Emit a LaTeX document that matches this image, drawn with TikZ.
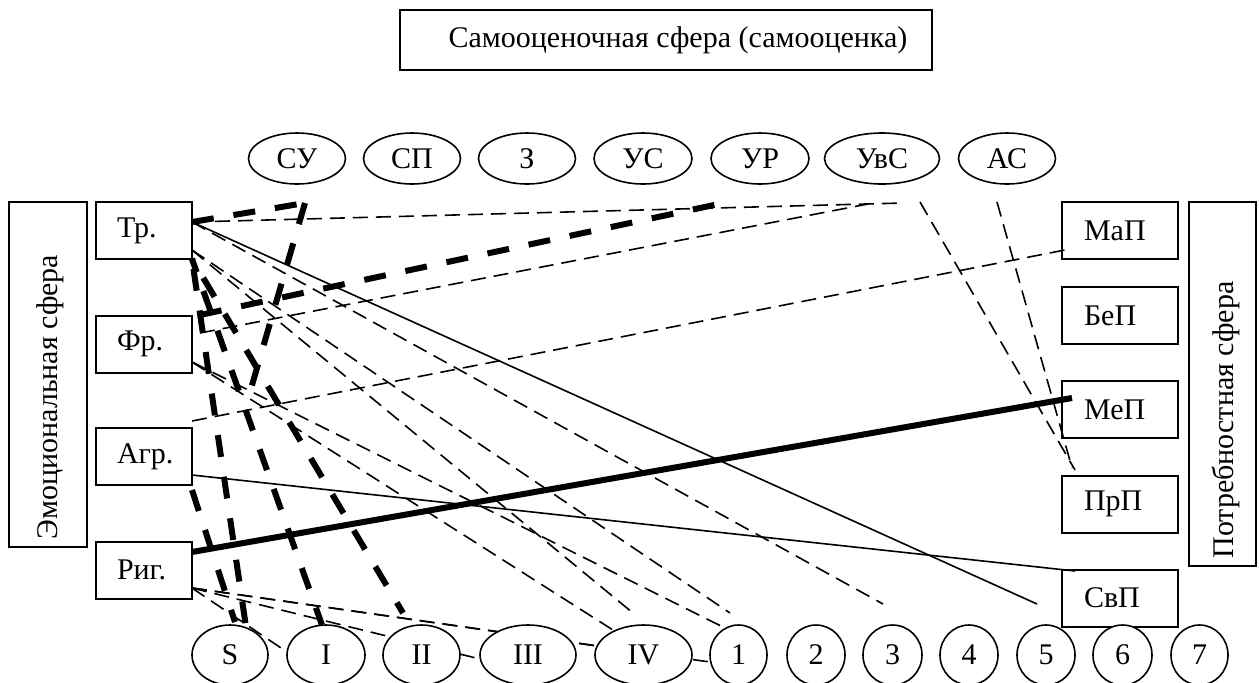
\documentclass[tikz,border=0pt]{standalone}
\usepackage{fontspec}
\setmainfont{Liberation Serif}
\usetikzlibrary{shapes.geometric,backgrounds}
\begin{document}
\begin{tikzpicture}[x=0.5pt,y=-0.5pt,
  every node/.style={font=\fontsize{15}{18}\selectfont},
  lbox/.style={draw, line width=1pt, minimum height=28.5pt, inner ysep=0pt, inner xsep=10.5pt, text width=27pt, align=left},
  rbox/.style={draw, line width=1pt, minimum height=28.5pt, inner ysep=0pt, inner xsep=11pt, text width=36pt, align=left},
  bigbox/.style={draw, line width=1pt, inner sep=0pt},
  oval/.style={ellipse, draw, line width=0.8pt, fill=white, inner sep=0pt},
  thin/.style={line width=0.8pt},
  thindash/.style={line width=0.8pt, dash pattern=on 7.5pt off 4pt},
  thickdash/.style={line width=3pt, dash pattern=on 11pt off 10pt},
  thicksolid/.style={line width=3pt}
]
\useasboundingbox (0,0) rectangle (1259,682);

% title
\node[bigbox, minimum width=266pt, minimum height=30pt] (title) at (666,40) {};
\node (titletext) at (678,40) {Самооценочная сфера (самооценка)};

% side spheres
\node[bigbox, minimum width=39pt, minimum height=172.5pt] (emo) at (48,374.5) {};
\node[rotate=90] (emotext) at (50,397) {Эмоциональная сфера};
\node[bigbox, minimum width=33.5pt, minimum height=182pt] (need) at (1222.5,384) {};
\node[rotate=90] (needtext) at (1226,420) {Потребностная сфера};

% left boxes
\node[lbox] (tr)  at (144,230.5) {Тр.};
\node[lbox] (fr)  at (144,344)   {Фр.};
\node[lbox] (agr) at (144,456.5) {Агр.};
\node[lbox] (rig) at (144,570)   {Риг.};

% right boxes
\node[rbox] (map) at (1120,230.5) {МаП};
\node[rbox] (bep) at (1120,315.5) {БеП};
\node[rbox] (mep) at (1120,409.5) {МеП};
\node[rbox] (prp) at (1120,504)   {ПрП};
\node[rbox] (svp) at (1120,598)   {СвП};

% top ovals
\node[oval, minimum width=48.5pt, minimum height=25.5pt] (su)  at (297,158.5) {СУ};
\node[oval, minimum width=48.5pt, minimum height=25.5pt] (sp)  at (412,158.5) {СП};
\node[oval, minimum width=48.5pt, minimum height=25.5pt] (z)   at (527,158.5) {З};
\node[oval, minimum width=49pt, minimum height=25.5pt]   (us)  at (643,158.5) {УС};
\node[oval, minimum width=49pt, minimum height=25.5pt]   (ur)  at (760,158.5) {УР};
\node[oval, minimum width=57.5pt, minimum height=25.5pt] (uvs) at (882,158.5) {УвС};
\node[oval, minimum width=48.5pt, minimum height=25.5pt] (as)  at (1007,158.5) {АС};

% bottom ovals
\node[oval, minimum width=38pt, minimum height=30pt]   (bS)   at (230,655) {S};
\node[oval, minimum width=39pt, minimum height=30pt]   (bI)   at (326,655) {I};
\node[oval, minimum width=38.5pt, minimum height=30pt] (bII)  at (421.5,655) {II};
\node[oval, minimum width=48pt, minimum height=30pt]   (bIII) at (528,655) {III};
\node[oval, minimum width=48.5pt, minimum height=30pt] (bIV)  at (643.5,655) {IV};
\node[oval, minimum width=28.5pt, minimum height=30pt] (b1)   at (738.5,655) {1};
\node[oval, minimum width=29pt, minimum height=30pt]   (b2)   at (816,655) {2};
\node[oval, minimum width=29.5pt, minimum height=30pt] (b3)   at (892.5,655) {3};
\node[oval, minimum width=29pt, minimum height=30pt]   (b4)   at (969,655) {4};
\node[oval, minimum width=29pt, minimum height=30pt]   (b5)   at (1046,655) {5};
\node[oval, minimum width=29.5pt, minimum height=30pt] (b6)   at (1122.5,655) {6};
\node[oval, minimum width=28.5pt, minimum height=30pt] (b7)   at (1199.5,655) {7};

% connector end points
\coordinate (trA) at (192,222);
\coordinate (trB) at (192,250);
\coordinate (trC) at (192,259);
\coordinate (frA) at (200,333);
\coordinate (frT) at (200,315);
\coordinate (frB) at (192,362);
\coordinate (agrA) at (192,421);
\coordinate (agrB) at (192,475);
\coordinate (agrC) at (192,490);
\coordinate (rigA) at (192,552);
\coordinate (rigB) at (192,588);
\coordinate (suB) at (305,203);
\coordinate (zig) at (250,392);
\coordinate (urB) at (728,202);
\coordinate (uvsA) at (903,203);
\coordinate (uvsB) at (873,203);
\coordinate (uvsC) at (920,202);
\coordinate (asB) at (997,202);
\coordinate (mapL) at (1070,249);
\coordinate (mepL) at (1072,398);
\coordinate (prpA) at (1075,470);
\coordinate (prpB) at (1072,468);
\coordinate (svpL) at (1075,571);
\coordinate (e5) at (1037,604);
\coordinate (e3) at (883,604);
\coordinate (eA) at (633,613);
\coordinate (eB) at (730,613);
\coordinate (eIV) at (613,630);
\coordinate (e1) at (725,628);
\coordinate (sT) at (246,627);
\coordinate (sT2) at (235,622);
\coordinate (iT) at (322,625);
\coordinate (iiT) at (403,613);
\coordinate (iL) at (287,652);
\coordinate (iiiL) at (480,659);
\coordinate (ivL) at (597,646);
\coordinate (oneL) at (710,662);

\begin{scope}[on background layer]
  % thin solid
  \draw[thin] (trA) -- (e5);
  \draw[thin] (agrB) -- (svpL);
  % thick solid
  \draw[thicksolid] (rigA) -- (mepL);
  % thin dashed
  \draw[thindash] (trA) -- (uvsA);
  \draw[thindash] (frA) -- (uvsB);
  \draw[thindash] (agrA) -- (mapL);
  \draw[thindash] (uvsC) -- (prpA);
  \draw[thindash] (asB) -- (prpB);
  \draw[thindash] (trA) -- (e3);
  \draw[thindash] (trB) -- (eA);
  \draw[thindash] (trB) -- (eB);
  \draw[thindash] (frB) -- (eIV);
  \draw[thindash] (frB) -- (e1);
  \draw[thindash] (rigB) -- (iL);
  \draw[thindash] (rigB) -- (iiiL);
  \draw[thindash] (rigB) -- (ivL);
  \draw[thindash] (rigB) -- (oneL);
  % thick dashed
  \draw[thickdash] (trA) -- (suB);
  \draw[thickdash] (suB) -- (zig);
  \draw[thickdash] (frT) -- (urB);
  \draw[thickdash, dash phase=16pt] (trC) -- (sT);
  \draw[thickdash, dash phase=4pt] (trC) -- (iT);
  \draw[thickdash, dash phase=10pt] (trC) -- (iiT);
  \draw[thickdash] (agrC) -- (sT2);
\end{scope}
\end{tikzpicture}
\end{document}
